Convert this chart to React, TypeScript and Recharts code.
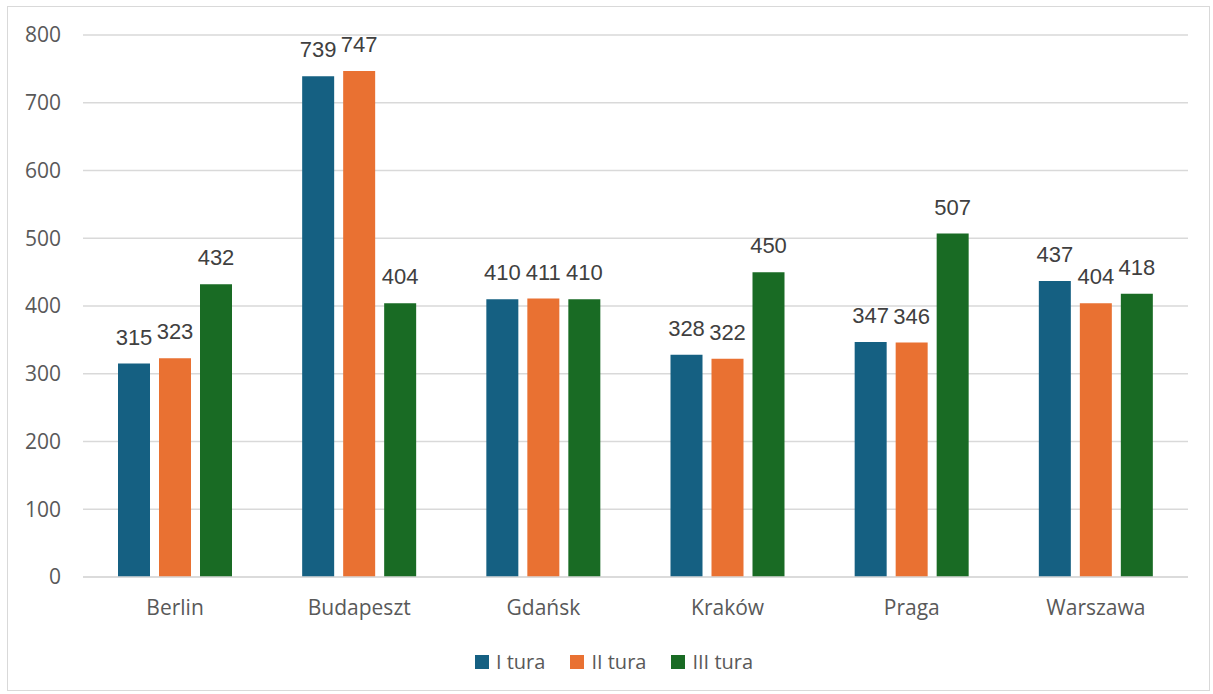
import { BarChart, Bar, XAxis, YAxis, CartesianGrid, Legend, LabelList } from "recharts";

const cities = ["Berlin", "Budapeszt", "Gdańsk", "Kraków", "Praga", "Warszawa"];
const tura1 = [315, 739, 410, 328, 347, 437];
const tura2 = [323, 747, 411, 322, 346, 404];
const tura3 = [432, 404, 410, 450, 507, 418];
const yTicks = [0, 100, 200, 300, 400, 500, 600, 700, 800];

const SERIES = [
  { key: "t1", name: "I tura", color: "#156082" },
  { key: "t2", name: "II tura", color: "#E97132" },
  { key: "t3", name: "III tura", color: "#196B24" },
];

const data = cities.map((city, i) => ({ city, t1: tura1[i], t2: tura2[i], t3: tura3[i] }));

const AXIS_FONT = "'Open Sans', sans-serif";
const LABEL_FONT = "'Liberation Sans', Arial, sans-serif";

function LegendBox() {
  return (
    <div style={{ display: "flex", justifyContent: "center", alignItems: "center", gap: 25, paddingBottom: 20, marginLeft: 40, fontFamily: AXIS_FONT, fontSize: 20, color: "#595959" }}>
      {SERIES.map((s) => (
        <div key={s.key} style={{ display: "flex", alignItems: "center" }}>
          <span style={{ width: 14, height: 14, background: s.color, display: "inline-block", marginRight: 7 }} />
          <span>{s.name}</span>
        </div>
      ))}
    </div>
  );
}

export default function App() {
  return (
    <div style={{ position: "absolute", left: 0, top: 0, width: 1213, height: 694, background: "#fff" }}>
      {/* chart frame */}
      <div style={{ position: "absolute", left: 7, top: 6, width: 1201, height: 683, border: "1px solid #d9d9d9" }} />
      <div style={{ position: "absolute", left: 0, top: 0 }}>
        <BarChart width={1213} height={694} data={data} margin={{ top: 35, right: 25, left: 0, bottom: 0 }}
          barSize={32} barGap={9}>
          <CartesianGrid vertical={false} stroke="#d9d9d9" strokeWidth={1.3} />
          <XAxis dataKey="city" height={71} tickLine={false} axisLine={{ stroke: "#d9d9d9", strokeWidth: 1.5 }}
            tickMargin={17} tick={{ fill: "#595959", fontSize: 21, fontFamily: AXIS_FONT }} />
          <YAxis width={83} domain={[0, 800]} ticks={yTicks} axisLine={false} tickLine={false} tickMargin={16}
            tick={{ fill: "#595959", fontSize: 21, fontFamily: AXIS_FONT }} />
          <Legend verticalAlign="bottom" height={46} content={() => <LegendBox />} />
          {SERIES.map((s) => (
            <Bar key={s.key} dataKey={s.key} name={s.name} fill={s.color} isAnimationActive={false}>
              <LabelList dataKey={s.key} position="top" offset={19}
                style={{ fill: "#404040", fontSize: 22, fontFamily: LABEL_FONT }} />
            </Bar>
          ))}
        </BarChart>
      </div>
    </div>
  );
}
